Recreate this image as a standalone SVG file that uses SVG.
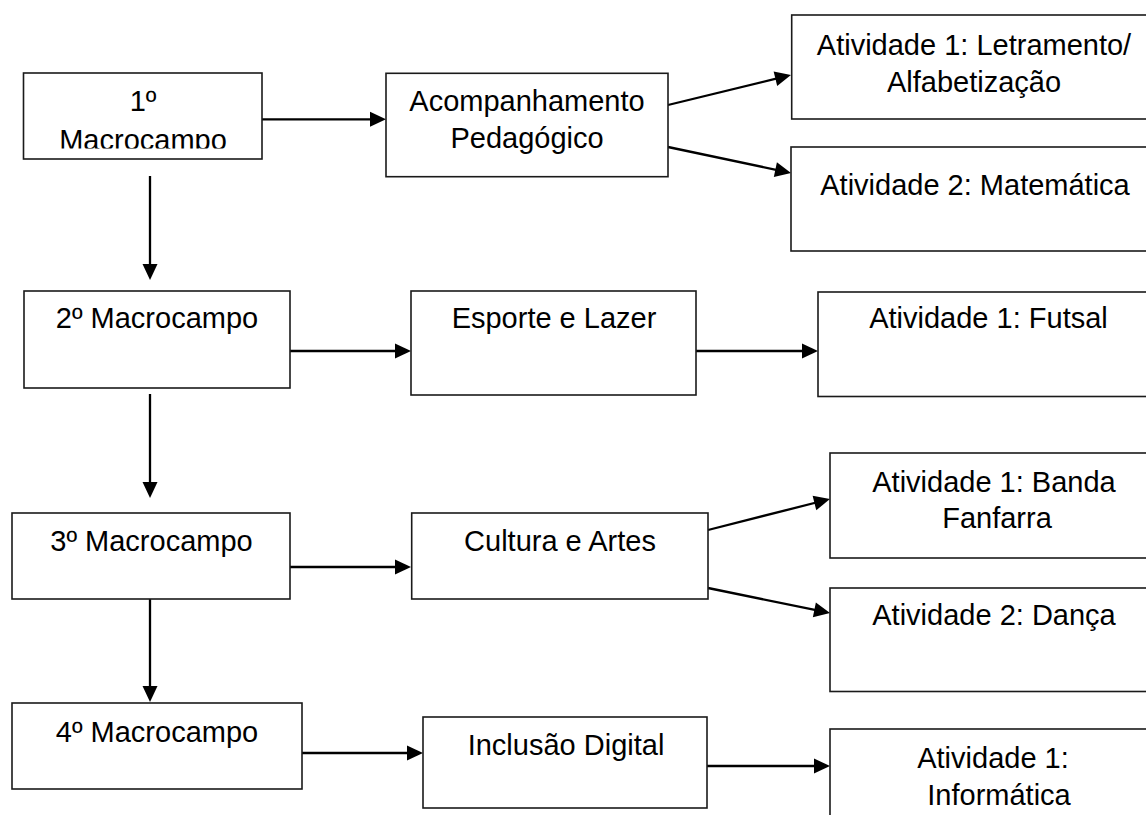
<svg xmlns="http://www.w3.org/2000/svg" width="1146" height="815" viewBox="0 0 1146 815">
<style>
.box{fill:#fff;stroke:#1a1a1a;stroke-width:1.6}
.t{font-family:"Liberation Sans",Arial,sans-serif;font-size:29px;fill:#000;text-anchor:middle}
.c{stroke:#000;stroke-width:2.3;fill:none;marker-end:url(#ah)}
</style>
<defs>
<marker id="ah" markerUnits="userSpaceOnUse" markerWidth="16" markerHeight="15" refX="8" refY="7.5" orient="auto" overflow="visible">
<path d="M0,0 L16,7.5 L0,15 Z" fill="#000"/>
</marker>
<clipPath id="clip1"><rect x="23" y="73" width="240" height="75.5"/></clipPath>
</defs>
<rect width="1146" height="815" fill="#fff"/>
<g id="connectors">
<line class="c" x1="262" y1="119.3" x2="378" y2="119.3"/>
<line class="c" x1="150" y1="176" x2="150" y2="272"/>
<line class="c" x1="668" y1="105" x2="783.2" y2="76.9"/>
<line class="c" x1="668" y1="147" x2="783.2" y2="171.3"/>
<line class="c" x1="290" y1="351" x2="403" y2="351"/>
<line class="c" x1="696" y1="351" x2="810" y2="351"/>
<line class="c" x1="150" y1="394" x2="150" y2="490"/>
<line class="c" x1="290" y1="567" x2="403" y2="567"/>
<line class="c" x1="708" y1="530" x2="822.2" y2="501"/>
<line class="c" x1="708" y1="588" x2="822.2" y2="611.4"/>
<line class="c" x1="150" y1="599" x2="150" y2="694"/>
<line class="c" x1="302" y1="753" x2="415" y2="753"/>
<line class="c" x1="707" y1="766" x2="822" y2="766"/>
</g>
<g id="macro1">
<rect class="box" x="23.5" y="73" width="238.5" height="86"/>
<text class="t" x="143" y="111">1º</text>
<text class="t" x="143" y="149.5" clip-path="url(#clip1)">Macrocampo</text>
</g>
<g id="acompanhamento">
<rect class="box" x="386" y="73.3" width="282" height="103.4"/>
<text class="t" x="527" y="110.7">Acompanhamento</text>
<text class="t" x="527" y="148.3">Pedagógico</text>
</g>
<g id="letramento">
<rect class="box" x="791.7" y="15" width="370" height="104"/>
<text class="t" x="974" y="55">Atividade 1: Letramento/</text>
<text class="t" x="974" y="92">Alfabetização</text>
</g>
<g id="matematica">
<rect class="box" x="791" y="147" width="370" height="104"/>
<text class="t" x="975" y="195">Atividade 2: Matemática</text>
</g>
<g id="macro2">
<rect class="box" x="24" y="291" width="266" height="97"/>
<text class="t" x="157" y="328">2º Macrocampo</text>
</g>
<g id="esporte">
<rect class="box" x="411" y="291" width="285" height="104"/>
<text class="t" x="554" y="328">Esporte e Lazer</text>
</g>
<g id="futsal">
<rect class="box" x="818" y="292" width="350" height="104.5"/>
<text class="t" x="988.5" y="328">Atividade 1: Futsal</text>
</g>
<g id="macro3">
<rect class="box" x="12" y="513" width="278" height="86"/>
<text class="t" x="151.5" y="551">3º Macrocampo</text>
</g>
<g id="cultura">
<rect class="box" x="411.7" y="513" width="296.3" height="86"/>
<text class="t" x="560" y="550.7">Cultura e Artes</text>
</g>
<g id="banda">
<rect class="box" x="830" y="453" width="340" height="105"/>
<text class="t" x="994" y="492">Atividade 1: Banda</text>
<text class="t" x="997" y="528">Fanfarra</text>
</g>
<g id="danca">
<rect class="box" x="830" y="588" width="340" height="103.5"/>
<text class="t" x="994" y="625">Atividade 2: Dança</text>
</g>
<g id="macro4">
<rect class="box" x="12" y="703" width="290" height="86"/>
<text class="t" x="157" y="742">4º Macrocampo</text>
</g>
<g id="inclusao">
<rect class="box" x="423" y="717" width="284" height="91"/>
<text class="t" x="566" y="755">Inclusão Digital</text>
</g>
<g id="informatica">
<rect class="box" x="830" y="729" width="340" height="120"/>
<text class="t" x="993" y="768">Atividade 1:</text>
<text class="t" x="999" y="805">Informática</text>
</g>
</svg>
